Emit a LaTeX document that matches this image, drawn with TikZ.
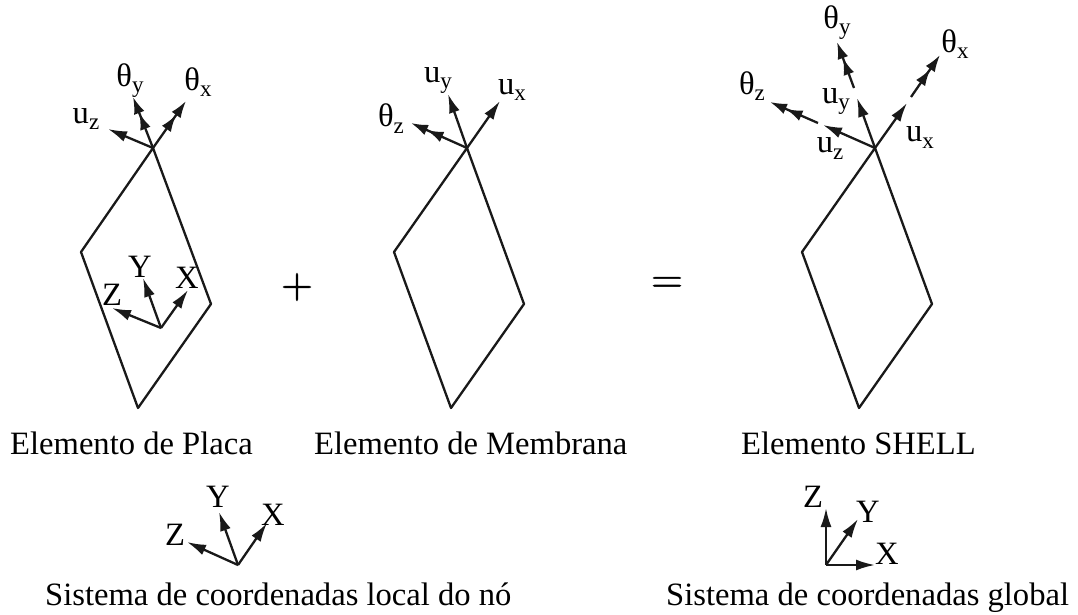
\documentclass[tikz,border=0pt]{standalone}
\usepackage{fontspec}
\setmainfont{Liberation Serif}
\newfontfamily\opfont[FakeBold=1.2]{Latin Modern Roman}
\usetikzlibrary{arrows.meta}
\tikzset{
 every node/.style={inner sep=0pt,font=\fontsize{32.6}{36}\selectfont},
 edge/.style={line width=2.3pt,black!90,line join=round},
 ar/.style={line width=2.3pt,black!90,-{Latex[length=19pt,width=11pt]}},
 arr/.style={line width=2.3pt,black!90,-{Latex[length=17pt,width=11pt]Latex[length=17pt,width=11pt]}},
 lab/.style={anchor=base},
 captxt/.style={anchor=base west},
}
\newcommand{\sbs}[2]{#1\raisebox{-6pt}{\fontsize{23}{24}\selectfont #2}}
\begin{document}
\begin{tikzpicture}[x=1pt,y=-1pt]
\useasboundingbox (0,0) rectangle (1078,615);
% plate
\coordinate (pt) at (153,148); \coordinate (pl) at (81,252);
\coordinate (pb) at (138,408); \coordinate (pr) at (211,304);
\draw[edge] (pt)--(pl)--(pb)--(pr)--cycle;
\coordinate (puz) at (108,129); \coordinate (pty) at (133,97); \coordinate (ptx) at (186,101);
\draw[ar] (pt)--(puz); \draw[arr] (pt)--(pty); \draw[arr] (pt)--(ptx);
\node[lab] (l1) at (86,124) {\sbs{u}{z}};
\node[lab] (l2) at (130,87) {\sbs{θ}{y}};
\node[lab] (l3) at (198,91) {\sbs{θ}{x}};
\coordinate (po) at (161,328);
\coordinate (pz) at (112,308); \coordinate (py) at (143,278); \coordinate (px) at (188,290);
\draw[ar] (po)--(pz); \draw[ar] (po)--(py); \draw[ar] (po)--(px);
\node[lab] (l4) at (112,305) {Z};
\node[lab] (l5) at (140,277) {Y};
\node[lab] (l6) at (187,288) {X};
% membrane
\coordinate (mt) at (467,148); \coordinate (ml) at (394,252);
\coordinate (mb) at (451,408); \coordinate (mr) at (524,304);
\draw[edge] (mt)--(ml)--(mb)--(mr)--cycle;
\coordinate (muz) at (411,123); \coordinate (muy) at (448,94); \coordinate (mux) at (500,101);
\draw[arr] (mt)--(muz); \draw[ar] (mt)--(muy); \draw[ar] (mt)--(mux);
\node[lab] (l7) at (391,127) {\sbs{θ}{z}};
\node[lab] (l8) at (438,83) {\sbs{u}{y}};
\node[lab] (l9) at (512,95) {\sbs{u}{x}};
% shell
\coordinate (st) at (875,148); \coordinate (sl) at (802,252);
\coordinate (sb) at (859,408); \coordinate (sr) at (932,304);
\draw[edge] (st)--(sl)--(sb)--(sr)--cycle;
\coordinate (suz) at (823,125); \coordinate (suy) at (857,98); \coordinate (sux) at (907,103);
\coordinate (sz0) at (818,123); \coordinate (szt) at (770,102);
\coordinate (sy0) at (854,88); \coordinate (syt) at (837,42);
\coordinate (sx0) at (911,97); \coordinate (sxt) at (940,55);
\draw[ar] (st)--(suz); \draw[ar] (st)--(suy); \draw[ar] (st)--(sux);
\draw[arr] (sz0)--(szt); \draw[arr] (sy0)--(syt); \draw[arr] (sx0)--(sxt);
\node[lab] (l10) at (752,95) {\sbs{θ}{z}};
\node[lab] (l11) at (837,29) {\sbs{θ}{y}};
\node[lab] (l12) at (955,53) {\sbs{θ}{x}};
\node[lab] (l13) at (836,103) {\sbs{u}{y}};
\node[lab] (l14) at (830,153) {\sbs{u}{z}};
\node[lab] (l15) at (920,142) {\sbs{u}{x}};
% operators
\node (plus) at (297,287) {\opfont\fontsize{44}{44}\selectfont +};
\node (eq) at (667,285) {\opfont\fontsize{44}{44}\selectfont =};
% captions
\node[captxt] (c1) at (10,454) {Elemento de Placa};
\node[captxt] (c2) at (314,454) {Elemento de Membrana};
\node[captxt] (c3) at (741,454) {Elemento SHELL};
\node[captxt] (c4) at (45,605) {Sistema de coordenadas local do nó};
\node[captxt] (c5) at (666,605) {Sistema de coordenadas global};
% local
\coordinate (lo) at (238,565);
\coordinate (lz) at (187,542); \coordinate (ly) at (219,512); \coordinate (lx) at (267,523);
\draw[ar] (lo)--(lz); \draw[ar] (lo)--(ly); \draw[ar] (lo)--(lx);
\node[lab] (l16) at (175,545) {Z};
\node[lab] (l17) at (218,507) {Y};
\node[lab] (l18) at (273,525) {X};
% global
\coordinate (go) at (826,565);
\coordinate (gz) at (826,508); \coordinate (gy) at (858,519); \coordinate (gx) at (875,565);
\draw[ar] (go)--(gz); \draw[ar] (go)--(gy); \draw[ar] (go)--(gx);
\node[lab] (l19) at (813,507) {Z};
\node[lab] (l20) at (868,522) {Y};
\node[lab] (l21) at (887,564) {X};
\end{tikzpicture}
\end{document}
